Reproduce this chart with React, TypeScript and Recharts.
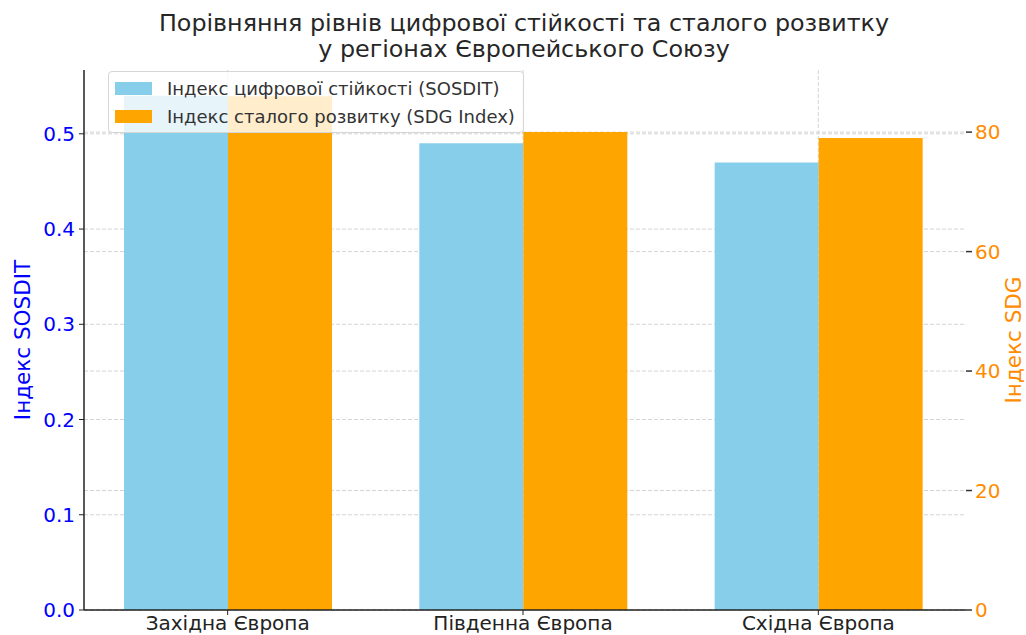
import React from "react";
import {
  BarChart,
  Bar,
  XAxis,
  YAxis,
  CartesianGrid,
  Legend,
} from "recharts";

const regions = ["Західна Європа", "Південна Європа", "Східна Європа"];
const sosditValues = [0.54, 0.49, 0.47];
const sdgValues = [86, 80, 79];
const leftTicks = [0, 0.1, 0.2, 0.3, 0.4, 0.5];
const rightTicks = [0, 20, 40, 60, 80];

const data = regions.map((region, i) => ({
  region,
  sosdit: sosditValues[i],
  sdg: sdgValues[i],
}));

const FONT = "'DejaVu Sans', sans-serif";
const SKY = "#87CEEB";
const ORANGE = "#FFA500";

const legendItems = [
  { label: "Індекс цифрової стійкості (SOSDIT)", color: SKY },
  { label: "Індекс сталого розвитку (SDG Index)", color: ORANGE },
];

const LegendBox = () => (
  <div
    style={{
      background: "rgba(255,255,255,0.8)",
      border: "1px solid #d6d6d6",
      borderRadius: 4,
      padding: "2px 8px 2px 6px",
      fontFamily: FONT,
      fontSize: 18,
      color: "#333",
      whiteSpace: "nowrap",
    }}
  >
    {legendItems.map((item) => (
      <div
        key={item.label}
        style={{ display: "flex", alignItems: "center", height: 28 }}
      >
        <span
          style={{
            display: "inline-block",
            width: 37,
            height: 13,
            background: item.color,
            marginRight: 15,
          }}
        />
        {item.label}
      </div>
    ))}
  </div>
);

const axisTitle = (text: string, color: string, dx: number) => (props: any) => {
  const vb = props.viewBox || {};
  const cx = (vb.x || 0) + dx;
  const cy = (vb.y || 0) + (vb.height || 0) / 2;
  return (
    <text
      x={cx}
      y={cy}
      transform={`rotate(-90 ${cx} ${cy})`}
      textAnchor="middle"
      dominantBaseline="central"
      fill={color}
      fontSize={21.5}
      fontFamily={FONT}
    >
      {text}
    </text>
  );
};

export default function App() {
  return (
    <div
      style={{
        position: "absolute",
        left: 0,
        top: 0,
        width: 1026,
        height: 635,
        background: "#fff",
        fontFamily: FONT,
      }}
    >
      <div
        style={{
          position: "absolute",
          top: 10,
          left: 0,
          width: 1048,
          textAlign: "center",
          fontSize: 23.8,
          lineHeight: "26px",
          color: "#262626",
          zIndex: 2,
        }}
      >
        Порівняння рівнів цифрової стійкості та сталого розвитку
        <br />
        у регіонах Європейського Союзу
      </div>
      <BarChart
        width={1026}
        height={635}
        data={data}
        margin={{ top: 70, right: 0, bottom: 0, left: 0 }}
        barGap={0}
        barSize={104}
      >
        <CartesianGrid
          yAxisId="left"
          strokeDasharray="4 2"
          stroke="#d4d4d4"
          syncWithTicks
        />
        <CartesianGrid
          yAxisId="right"
          strokeDasharray="4 2"
          stroke="#d4d4d4"
          vertical={false}
          syncWithTicks
        />
        <XAxis
          dataKey="region"
          padding={{ left: -4, right: 0 }}
          height={25}
          tickSize={5}
          tickMargin={1}
          axisLine={{ stroke: "#222", strokeWidth: 1.5 }}
          tickLine={{ stroke: "#222" }}
          tick={{ fill: "#222", fontSize: 20, fontFamily: FONT }}
        />
        <YAxis
          yAxisId="left"
          width={84}
          domain={[0, 0.567]}
          ticks={leftTicks}
          allowDataOverflow
          tickFormatter={(v: number) => v.toFixed(1)}
          tickSize={5}
          tickMargin={4}
          axisLine={{ stroke: "#222", strokeWidth: 1.5 }}
          tickLine={{ stroke: "#222" }}
          tick={{ fill: "#0000FF", fontSize: 20, fontFamily: FONT }}
          label={{ content: axisTitle("Індекс SOSDIT", "#0000FF", 22) }}
        />
        <YAxis
          yAxisId="right"
          orientation="right"
          width={60}
          domain={[0, 90.4]}
          ticks={rightTicks}
          allowDataOverflow
          tickSize={6}
          tickMargin={3}
          axisLine={false}
          tickLine={{ stroke: "#333", strokeWidth: 1.5 }}
          tick={{ fill: "#FF8C00", fontSize: 20, fontFamily: FONT }}
          label={{ content: axisTitle("Індекс SDG", "#FF8C00", 47) }}
        />
        <Legend
          layout="horizontal"
          verticalAlign="middle"
          align="center"
          content={<LegendBox />}
          wrapperStyle={{ top: 71, left: 108, width: "auto", height: "auto" }}
        />
        <Bar
          yAxisId="left"
          dataKey="sosdit"
          name="Індекс цифрової стійкості (SOSDIT)"
          fill={SKY}
          isAnimationActive={false}
        />
        <Bar
          yAxisId="right"
          dataKey="sdg"
          name="Індекс сталого розвитку (SDG Index)"
          fill={ORANGE}
          isAnimationActive={false}
        />
      </BarChart>
    </div>
  );
}
